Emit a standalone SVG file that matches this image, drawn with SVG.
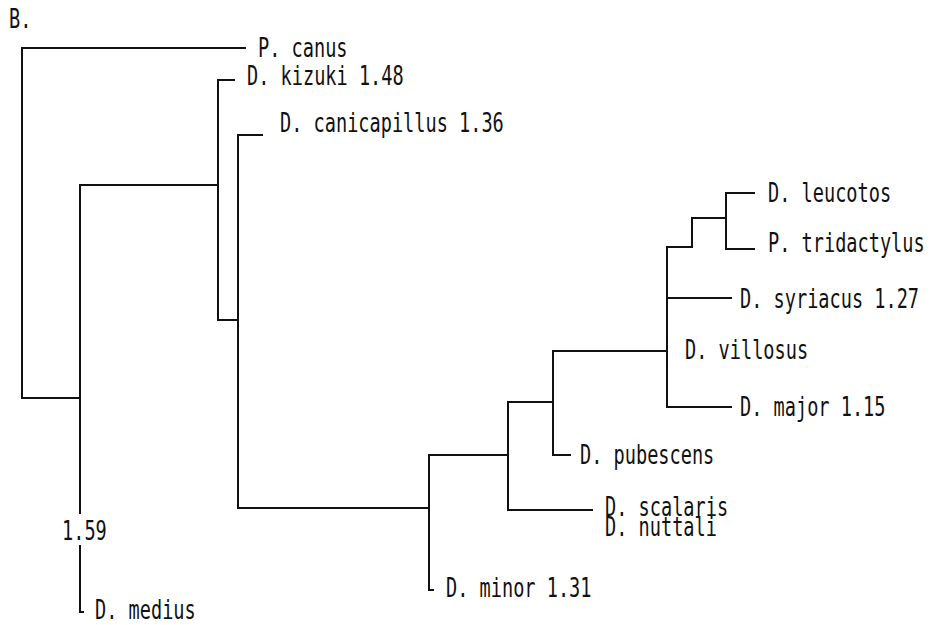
<svg xmlns="http://www.w3.org/2000/svg" width="930" height="625" viewBox="0 0 930 625">
<style>
.bg{fill:#fff}
.ln{fill:none;stroke:#111;stroke-width:2;stroke-linecap:square;stroke-linejoin:miter}
text{font-family:"DejaVu Sans Mono","Liberation Mono",monospace;font-size:18.6px;fill:#111}
</style>
<rect class="bg" x="0" y="0" width="930" height="625"/>
<text transform="translate(9,28) scale(1,1.4)">B.</text>
<g id="connectors">
<polyline class="ln" points="245,48 22,48 22,398 80,398"/>
<polyline class="ln" points="80,185 80,513"/>
<polyline class="ln" points="80,546 80,612 83,612"/>
<polyline class="ln" points="80,185 218,185"/>
<polyline class="ln" points="234,80 218,80 218,320 238,320"/>
<polyline class="ln" points="262,135 238,135 238,508 429,508"/>
<polyline class="ln" points="429,455 429,590 433,590"/>
<polyline class="ln" points="429,455 508,455"/>
<polyline class="ln" points="508,402 508,510 592,510"/>
<polyline class="ln" points="508,402 553,402"/>
<polyline class="ln" points="553,351 553,455 570,455"/>
<polyline class="ln" points="553,351 667,351"/>
<polyline class="ln" points="667,247 667,407 731,407"/>
<polyline class="ln" points="667,298 731,298"/>
<polyline class="ln" points="667,247 692,247 692,218 726,218"/>
<polyline class="ln" points="754,193 726,193 726,249 754,249"/>
</g>
<g id="n-canus"><text transform="translate(258,57) scale(1,1.4)">P. canus</text></g>
<g id="n-kizuki"><text transform="translate(247,85) scale(1,1.4)">D. kizuki 1.48</text></g>
<g id="n-canicapillus"><text transform="translate(280,132) scale(1,1.4)">D. canicapillus 1.36</text></g>
<g id="n-leucotos"><text transform="translate(768,202) scale(1,1.4)">D. leucotos</text></g>
<g id="n-tridactylus"><text transform="translate(768,252) scale(1,1.4)">P. tridactylus</text></g>
<g id="n-syriacus"><text transform="translate(740,308) scale(1,1.4)">D. syriacus 1.27</text></g>
<g id="n-villosus"><text transform="translate(685,359) scale(1,1.4)">D. villosus</text></g>
<g id="n-major"><text transform="translate(740,416) scale(1,1.4)">D. major 1.15</text></g>
<g id="n-pubescens"><text transform="translate(580,464) scale(1,1.4)">D. pubescens</text></g>
<g id="n-scalaris"><text transform="translate(605,516) scale(1,1.4)">D. scalaris</text></g>
<g id="n-nuttali"><text transform="translate(605,536) scale(1,1.4)">D. nuttali</text></g>
<g id="n-minor"><text transform="translate(446,597) scale(1,1.4)">D. minor 1.31</text></g>
<g id="n-159"><text transform="translate(62,540) scale(1,1.4)">1.59</text></g>
<g id="n-medius"><text transform="translate(95,619) scale(1,1.4)">D. medius</text></g>
</svg>
